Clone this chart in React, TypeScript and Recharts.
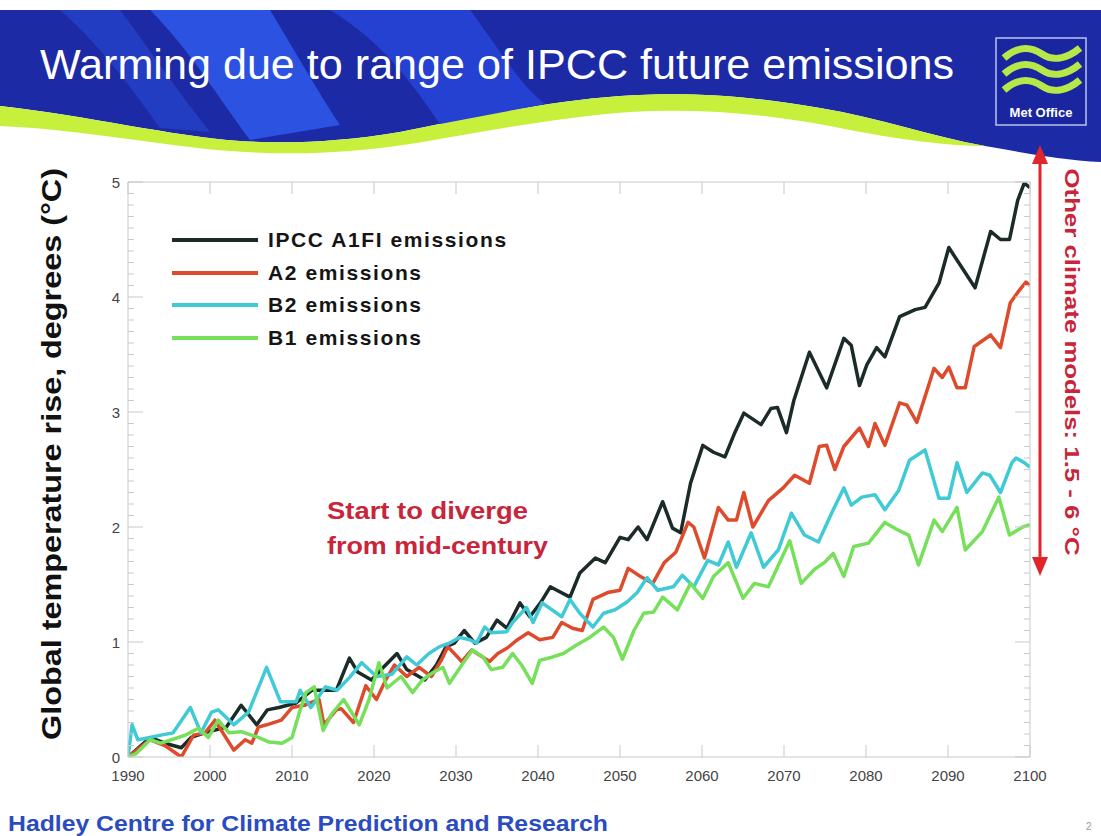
import React from 'react'
import { LineChart, Line, XAxis, YAxis, Legend } from 'recharts'

// ---- series (year, °C) ----
const a1fiYears = [1990, 1992.7, 1994.5, 1996.5, 1997.7, 1999.8, 2002, 2003.8, 2005.7, 2007, 2008.4, 2010.5, 2012.4, 2015.4, 2017, 2018, 2019.7, 2021, 2022.8, 2024, 2026.2, 2027.6, 2028.8, 2029.8, 2031, 2032.3, 2033.7, 2035, 2036.2, 2037.8, 2039, 2040.3, 2041.5, 2042.3, 2043.9, 2045.1, 2047, 2048.2, 2050, 2051, 2052.2, 2053.3, 2055.2, 2056.4, 2057.4, 2058.6, 2060.1, 2061.4, 2062.8, 2064, 2065.1, 2067.2, 2068.4, 2069.2, 2070.3, 2071.2, 2073.1, 2075.2, 2077.3, 2078.2, 2079.2, 2080.1, 2081.3, 2082.3, 2084.1, 2086, 2087.2, 2088.9, 2090.1, 2093.3, 2095.2, 2096.4, 2097.5, 2098.5, 2099.3, 2100]
const a1fiValues = [0.0, 0.17, 0.12, 0.08, 0.17, 0.22, 0.26, 0.45, 0.28, 0.41, 0.43, 0.47, 0.58, 0.58, 0.86, 0.74, 0.67, 0.77, 0.9, 0.76, 0.67, 0.8, 0.96, 0.99, 1.1, 0.99, 1.04, 1.19, 1.12, 1.34, 1.22, 1.34, 1.48, 1.45, 1.39, 1.6, 1.73, 1.69, 1.91, 1.89, 2.0, 1.89, 2.22, 1.99, 1.95, 2.38, 2.71, 2.65, 2.61, 2.82, 2.99, 2.89, 3.03, 3.04, 2.82, 3.1, 3.52, 3.21, 3.64, 3.58, 3.23, 3.41, 3.56, 3.48, 3.83, 3.89, 3.91, 4.12, 4.43, 4.08, 4.57, 4.5, 4.5, 4.84, 4.99, 4.95]

const a2Years = [1990, 1992.7, 1994.5, 1995.5, 1996.5, 1998, 1999.4, 2000.6, 2002.9, 2004.3, 2005.1, 2005.9, 2006.9, 2008.7, 2010, 2011.5, 2013.3, 2013.9, 2015.4, 2016, 2017.5, 2019, 2020.3, 2021.5, 2022.5, 2024, 2025.5, 2027, 2028.2, 2029, 2030.7, 2031.9, 2034.1, 2035.1, 2036.3, 2037.5, 2038.8, 2040.2, 2041.8, 2042.9, 2044.2, 2045.4, 2046.7, 2048.5, 2050, 2051, 2052.5, 2054, 2055.4, 2056.8, 2058.3, 2059, 2060.3, 2062, 2063.2, 2064.2, 2065.1, 2066.2, 2068.1, 2069.9, 2071.3, 2073.1, 2074.3, 2075.2, 2076.2, 2077.3, 2079.2, 2080.3, 2081.1, 2082.3, 2084.1, 2085, 2086.2, 2088.3, 2089.3, 2090.1, 2091.1, 2092.1, 2093.2, 2095.2, 2096.4, 2097.6, 2098.5, 2099.5, 2100]
const a2Values = [0.0, 0.15, 0.1, 0.05, 0.0, 0.19, 0.21, 0.32, 0.06, 0.15, 0.12, 0.26, 0.28, 0.32, 0.43, 0.45, 0.5, 0.28, 0.41, 0.42, 0.3, 0.62, 0.5, 0.68, 0.8, 0.7, 0.78, 0.7, 0.84, 0.96, 0.83, 0.93, 0.83, 0.9, 0.95, 1.02, 1.08, 1.02, 1.04, 1.17, 1.12, 1.1, 1.37, 1.43, 1.45, 1.64, 1.57, 1.51, 1.69, 1.78, 2.04, 2.0, 1.73, 2.17, 2.06, 2.06, 2.3, 2.0, 2.23, 2.34, 2.45, 2.38, 2.7, 2.71, 2.5, 2.7, 2.86, 2.7, 2.9, 2.71, 3.08, 3.06, 2.91, 3.38, 3.3, 3.39, 3.21, 3.21, 3.57, 3.67, 3.56, 3.95, 4.04, 4.13, 4.1]

const b2Years = [1990, 1990.5, 1991.2, 1992.7, 1994, 1995.5, 1997.6, 1998.9, 2000.2, 2001, 2002.9, 2004.7, 2006.9, 2008.6, 2010.5, 2011, 2012.3, 2014.1, 2015.5, 2017, 2018.5, 2020.3, 2022.2, 2024, 2025.2, 2026.7, 2028, 2029.2, 2030.4, 2031.7, 2032.5, 2033.5, 2034.3, 2036.2, 2036.9, 2038.6, 2039.4, 2040.5, 2042.9, 2043.9, 2045.1, 2046.7, 2048, 2049.4, 2050.9, 2052.1, 2053.3, 2054.6, 2056.5, 2057.6, 2059, 2060.7, 2062, 2063.2, 2064.2, 2066, 2067.5, 2069.3, 2070.9, 2072.5, 2074.2, 2075.8, 2077.3, 2078.2, 2079.5, 2081.1, 2082.3, 2084, 2085.3, 2087.2, 2088.9, 2090.1, 2091.1, 2092.3, 2094.2, 2095.1, 2096.4, 2097.8, 2098.3, 2099.3, 2100]
const b2Values = [0.0, 0.28, 0.15, 0.17, 0.19, 0.21, 0.43, 0.21, 0.39, 0.41, 0.28, 0.39, 0.78, 0.48, 0.48, 0.58, 0.43, 0.61, 0.58, 0.69, 0.82, 0.7, 0.72, 0.87, 0.8, 0.9, 0.96, 0.99, 1.04, 1.02, 0.99, 1.13, 1.08, 1.09, 1.17, 1.3, 1.17, 1.34, 1.22, 1.37, 1.25, 1.13, 1.25, 1.28, 1.35, 1.43, 1.56, 1.45, 1.48, 1.58, 1.48, 1.71, 1.67, 1.87, 1.65, 1.95, 1.65, 1.8, 2.12, 1.93, 1.87, 2.12, 2.34, 2.19, 2.26, 2.28, 2.15, 2.32, 2.58, 2.67, 2.25, 2.25, 2.56, 2.3, 2.47, 2.45, 2.3, 2.56, 2.6, 2.56, 2.52]

const b1Years = [1990, 1991, 1992.7, 1994, 1995.3, 1997, 1998.6, 1999.8, 2001, 2002.3, 2003.8, 2005.9, 2007.2, 2008.8, 2010, 2011, 2011.7, 2012.7, 2013.8, 2014.9, 2016.3, 2018.2, 2019.4, 2020.6, 2021.6, 2023.3, 2024.7, 2025.9, 2027.1, 2028.4, 2029.2, 2030.7, 2032, 2033.3, 2034.3, 2035.7, 2036.9, 2038, 2039.3, 2040.2, 2041.8, 2043.1, 2044.6, 2046.3, 2048, 2049.2, 2050.3, 2051.7, 2052.9, 2054.1, 2055.2, 2057, 2058.6, 2060.1, 2061.4, 2063.2, 2065, 2066.4, 2068.1, 2070.7, 2072.1, 2073.7, 2074.9, 2076, 2077.3, 2078.5, 2080.3, 2082.3, 2084, 2085.2, 2086.4, 2088.3, 2089.3, 2091.1, 2092.1, 2094.2, 2096.2, 2097.5, 2099.1, 2100]
const b1Values = [0.0, 0.03, 0.15, 0.12, 0.15, 0.19, 0.25, 0.17, 0.32, 0.21, 0.22, 0.17, 0.13, 0.12, 0.17, 0.41, 0.56, 0.61, 0.23, 0.38, 0.5, 0.28, 0.5, 0.82, 0.6, 0.7, 0.56, 0.67, 0.73, 0.78, 0.64, 0.8, 0.93, 0.87, 0.76, 0.78, 0.9, 0.8, 0.64, 0.84, 0.87, 0.9, 0.97, 1.04, 1.13, 1.04, 0.85, 1.1, 1.25, 1.26, 1.39, 1.28, 1.51, 1.38, 1.57, 1.69, 1.38, 1.51, 1.48, 1.88, 1.51, 1.63, 1.69, 1.77, 1.57, 1.83, 1.86, 2.04, 1.97, 1.93, 1.67, 2.06, 1.96, 2.17, 1.8, 1.96, 2.26, 1.93, 2.0, 2.02]

const yearTicks = [1990, 2000, 2010, 2020, 2030, 2040, 2050, 2060, 2070, 2080, 2090, 2100]
const tempTicks = Array.from({ length: 51 }, (_, i) => Number((i / 10).toFixed(1)))

const series = [
  { key: 'a1fi', name: 'IPCC A1FI emissions', color: '#1b2b29', years: a1fiYears, values: a1fiValues },
  { key: 'a2', name: 'A2 emissions', color: '#de4b2c', years: a2Years, values: a2Values },
  { key: 'b2', name: 'B2 emissions', color: '#3fcad6', years: b2Years, values: b2Values },
  { key: 'b1', name: 'B1 emissions', color: '#76e05a', years: b1Years, values: b1Values },
]

// one table keyed by year, gaps bridged with connectNulls
const allYears = Array.from(new Set(series.flatMap(s => s.years))).sort((a, b) => a - b)
const table = allYears.map(year => {
  const row: Record<string, number> = { year }
  series.forEach(s => {
    const i = s.years.indexOf(year)
    if (i >= 0) row[s.key] = s.values[i]
  })
  return row
})

const FONT = '"Liberation Sans", Arial, sans-serif'
const FRAME = '#c9c9c9'
const RED_TEXT = '#c8253a'

const isMajor = (v: number) => Math.abs(v - Math.round(v)) < 1e-6

const BottomTick = (props: any) => {
  const { x, y, payload } = props
  return (
    <g>
      <line x1={x} y1={y} x2={x} y2={y - 12} stroke={FRAME} />
      <text x={x} y={y + 24} textAnchor="middle" fontSize={15} fontFamily={FONT} fill="#444">
        {payload.value}
      </text>
    </g>
  )
}

const TopTick = (props: any) => {
  const { x, y } = props
  return <line x1={x} y1={y} x2={x} y2={y + 12} stroke={FRAME} />
}

const LeftTick = (props: any) => {
  const { x, y, payload } = props
  const major = isMajor(payload.value)
  return (
    <g>
      <line x1={x} y1={y} x2={x + (major ? 15 : 6)} y2={y} stroke={FRAME} />
      {major && (
        <text x={x - 8} y={y + 6} textAnchor="end" fontSize={15} fontFamily={FONT} fill="#444">
          {payload.value}
        </text>
      )}
    </g>
  )
}

const RightTick = (props: any) => {
  const { x, y, payload } = props
  const major = isMajor(payload.value)
  return <line x1={x} y1={y} x2={x - (major ? 15 : 6)} y2={y} stroke={FRAME} />
}

const order = series.map(s => s.name)

const renderLegend = (props: any) => {
  const items = [...(props.payload || [])].sort((a: any, b: any) => order.indexOf(a.value) - order.indexOf(b.value))
  return (
    <div>
      {items.map((p: any) => (
        <div key={p.value} style={{ display: 'flex', alignItems: 'center', height: 32.5 }}>
          <span style={{ display: 'inline-block', width: 86, height: 4, background: p.color, marginRight: 10 }} />
          <span style={{ font: `bold 21px ${FONT}`, letterSpacing: 1.6, color: '#151515' }}>{p.value}</span>
        </div>
      ))}
    </div>
  )
}

const Banner = () => (
  <svg width={1101} height={836} style={{ position: 'absolute', left: 0, top: 0 }}>
    {/* blue header with the lime wave under it */}
    <path
      d="M0,10 H1101 V162 C1060,160 1020,152 985,146 C930,136 880,118 820,108 C740,94 680,92 620,96 C540,102 460,120 400,132 C340,142 290,144 240,141 C170,136 90,116 0,106 Z"
      fill="#1d2aa6"
    />
    <path
      d="M0,106 C90,116 170,136 240,141 C290,144 340,142 400,132 C460,120 540,102 620,96 C680,92 740,94 820,108 C880,118 930,136 985,146 C950,146 900,140 840,128 C770,114 700,108 630,112 C550,118 470,134 410,144 C350,153 300,155 245,152 C170,148 90,130 0,126 Z"
      fill="#c6f03c"
    />
    <path d="M150,10 L270,10 C300,60 320,95 340,125 L250,140 C220,100 190,50 150,10 Z" fill="#2c52e2" />
    <path d="M330,10 L470,10 C500,50 520,85 545,104 L440,124 C410,80 380,40 330,10 Z" fill="#2541d2" />
    <path d="M60,10 L120,10 C150,50 180,95 210,132 L160,128 C130,85 95,40 60,10 Z" fill="#2746cf" opacity={0.7} />
    <text x={40} y={79} fontSize={42} textLength={914} lengthAdjust="spacingAndGlyphs" fontFamily={FONT} fill="#ffffff">
      Warming due to range of IPCC future emissions
    </text>

    {/* Met Office logo */}
    <rect x={996} y={38} width={90} height={87} fill="#1a26a0" stroke="#b9c4ee" strokeWidth={1.5} />
    {[52, 68, 84].map(y => (
      <path
        key={y}
        d={`M1004,${y + 6} C1018,${y - 6} 1030,${y - 6} 1042,${y + 2} C1054,${y + 10} 1068,${y + 6} 1080,${y - 4}`}
        stroke="#b6e84a"
        strokeWidth={7}
        fill="none"
      />
    ))}
    <text x={1041} y={117} textAnchor="middle" fontSize={13} fontWeight="bold" fontFamily={FONT} fill="#ffffff">
      Met Office
    </text>

    {/* y axis title */}
    <text
      transform="translate(52,454) rotate(-90)"
      textAnchor="middle"
      dominantBaseline="central"
      fontSize={27}
      fontWeight="bold"
      textLength={572}
      lengthAdjust="spacingAndGlyphs"
      fontFamily={FONT}
      fill="#111"
    >
      Global temperature rise, degrees (°C)
    </text>

    {/* annotation */}
    <text x={327} y={519} fontSize={24} fontWeight="bold" textLength={201} lengthAdjust="spacingAndGlyphs" fontFamily={FONT} fill={RED_TEXT}>
      Start to diverge
    </text>
    <text x={327} y={554} fontSize={24} fontWeight="bold" textLength={221} lengthAdjust="spacingAndGlyphs" fontFamily={FONT} fill={RED_TEXT}>
      from mid-century
    </text>

    {/* model range arrow */}
    <line x1={1040} y1={160} x2={1040} y2={560} stroke="#e0262a" strokeWidth={3} />
    <path d="M1040,145 L1032,164 L1048,164 Z" fill="#e0262a" />
    <path d="M1040,576 L1032,557 L1048,557 Z" fill="#e0262a" />
    <text
      transform="translate(1072,362) rotate(90)"
      textAnchor="middle"
      dominantBaseline="central"
      fontSize={21}
      fontWeight="bold"
      textLength={387}
      lengthAdjust="spacingAndGlyphs"
      fontFamily={FONT}
      fill={RED_TEXT}
    >
      Other climate models: 1.5 - 6 °C
    </text>

    <text x={8} y={831} fontSize={22} fontWeight="bold" textLength={600} lengthAdjust="spacingAndGlyphs" fontFamily={FONT} fill="#2a4cc0">
      Hadley Centre for Climate Prediction and Research
    </text>
    <text x={1086} y={830} fontSize={10} fontFamily={FONT} fill="#999">2</text>
  </svg>
)

export default function App() {
  return (
    <div style={{ position: 'relative', width: 1101, height: 836, background: '#fff', overflow: 'hidden' }}>
      <style>{'body{margin:0}'}</style>
      <Banner />
      <div style={{ position: 'absolute', left: 0, top: 0 }}>
        <LineChart width={1101} height={836} data={table} margin={{ top: 0, right: 0, bottom: 0, left: 0 }}>
          <XAxis
            dataKey="year"
            type="number"
            domain={[1990, 2100]}
            ticks={yearTicks}
            interval={0}
            height={79}
            tickSize={0}
            tickMargin={0}
            tickLine={false}
            axisLine={{ stroke: FRAME }}
            tick={<BottomTick />}
            allowDataOverflow
          />
          <XAxis
            xAxisId="top"
            orientation="top"
            dataKey="year"
            type="number"
            domain={[1990, 2100]}
            ticks={yearTicks}
            interval={0}
            height={182}
            tickSize={0}
            tickMargin={0}
            tickLine={false}
            axisLine={{ stroke: FRAME }}
            tick={<TopTick />}
            allowDataOverflow
          />
          <YAxis
            type="number"
            domain={[0, 5]}
            ticks={tempTicks}
            interval={0}
            width={128}
            tickSize={0}
            tickMargin={0}
            tickLine={false}
            axisLine={{ stroke: FRAME }}
            tick={<LeftTick />}
            allowDataOverflow
          />
          <YAxis
            yAxisId="r"
            orientation="right"
            type="number"
            domain={[0, 5]}
            ticks={tempTicks}
            interval={0}
            width={71}
            tickSize={0}
            tickMargin={0}
            tickLine={false}
            axisLine={{ stroke: FRAME }}
            tick={<RightTick />}
            allowDataOverflow
          />
          <Legend
            layout="vertical"
            align="center"
            verticalAlign="middle"
            content={renderLegend}
            wrapperStyle={{ left: 172, top: 224, width: 380, height: 130 }}
          />
          {series.map(s => (
            <Line
              key={s.key}
              dataKey={s.key}
              name={s.name}
              stroke={s.color}
              strokeWidth={3.5}
              strokeLinejoin="round"
              dot={false}
              connectNulls
              type="linear"
              isAnimationActive={false}
            />
          ))}
        </LineChart>
      </div>
    </div>
  )
}
